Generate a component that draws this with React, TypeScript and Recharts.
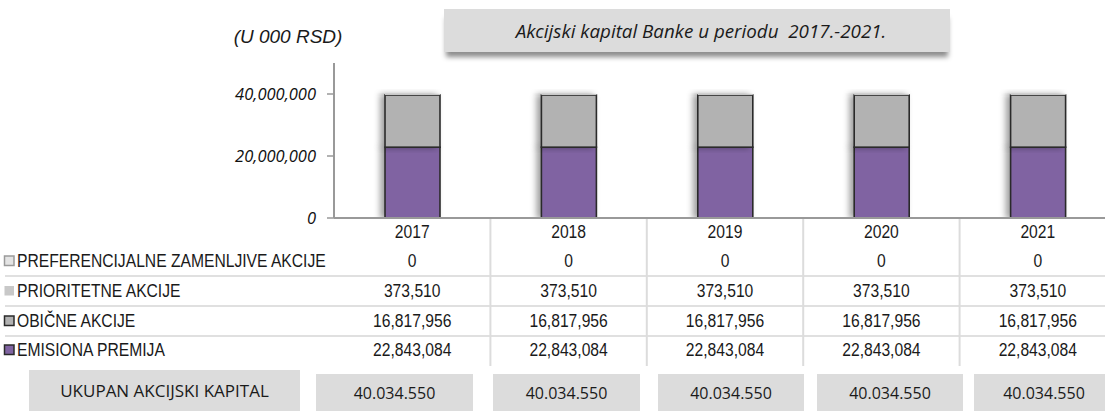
import React from "react";
import { BarChart, Bar, XAxis, YAxis } from "recharts";

const YEARS = ["2017", "2018", "2019", "2020", "2021"];
const PREFERENCIJALNE = [0, 0, 0, 0, 0];
const PRIORITETNE = [373510, 373510, 373510, 373510, 373510];
const OBICNE = [16817956, 16817956, 16817956, 16817956, 16817956];
const EMISIONA = [22843084, 22843084, 22843084, 22843084, 22843084];
const TOTALS = ["40.034.550", "40.034.550", "40.034.550", "40.034.550", "40.034.550"];
const Y_TICKS = [0, 20000000, 40000000];

const TITLE = "Akcijski kapital Banke u periodu  2017.-2021.";
const UNIT = "(U 000 RSD)";
const TOTAL_LABEL = "UKUPAN AKCIJSKI KAPITAL";

const data = YEARS.map((year, i) => ({
  year,
  emisiona: EMISIONA[i],
  obicne: OBICNE[i],
  prioritetne: PRIORITETNE[i],
  preferencijalne: PREFERENCIJALNE[i],
}));

// table rows, top to bottom (reverse of stack order)
const ROWS = [
  { label: "PREFERENCIJALNE ZAMENLJIVE AKCIJE", values: PREFERENCIJALNE, fill: "#e4e4e4", stroke: "#9a9a9a" },
  { label: "PRIORITETNE AKCIJE", values: PRIORITETNE, fill: "#c8c8c8", stroke: "none" },
  { label: "OBIČNE AKCIJE", values: OBICNE, fill: "#b2b2b2", stroke: "#2a2a2a" },
  { label: "EMISIONA PREMIJA", values: EMISIONA, fill: "#8064a2", stroke: "#2a2a2a" },
];

const ROW_Y = [261, 291, 321, 350];
const ROW_LINES = [276, 306, 336];
const BOXES = [
  { x: 316, w: 157 },
  { x: 493, w: 147 },
  { x: 658, w: 146 },
  { x: 817, w: 146 },
  { x: 974, w: 140 },
];

const PLOT_LEFT = 334;
const COL_W = 156.4;
const ZERO_Y = 218;
const SQUEEZE = 0.87; // fake Arial Narrow

const narrow = "'Liberation Sans', Arial, sans-serif";
const calibri = "'Open Sans', 'Noto Sans', sans-serif";

const fmt = (v: number) => v.toLocaleString("en-US");

const NarrowText = ({ x, y, anchor = "middle", children }: any) => (
  <g transform={`translate(${x},${y}) scale(${SQUEEZE},1)`}>
    <text x={0} y={0} textAnchor={anchor} dominantBaseline="central" fill="#1a1a1a"
      style={{ fontFamily: narrow, fontSize: 18 }}>{children}</text>
  </g>
);

const SegmentShape = (props: any) => {
  const { x, y, width, height, fill, stroke } = props;
  if (!height || height <= 0) return null;
  const hasStroke = stroke && stroke !== "none";
  return (
    <rect x={x} y={y} width={width} height={height} fill={fill}
      stroke={hasStroke ? stroke : "none"} strokeWidth={hasStroke ? 1.6 : 0}
      filter="url(#barShadow)" />
  );
};

const TableTick = (props: any) => {
  const { x, payload } = props;
  const i = YEARS.indexOf(String(payload.value));
  return (
    <g>
      <NarrowText x={x} y={232}>{payload.value}</NarrowText>
      {ROWS.map((r, k) => (
        <NarrowText key={r.label} x={x} y={ROW_Y[k]}>{fmt(r.values[i])}</NarrowText>
      ))}
    </g>
  );
};

export default function App() {
  return (
    <div style={{ position: "fixed", left: 0, top: 0, width: 1105, height: 411, overflow: "hidden", background: "#fff" }}>
      {/* table grid behind the chart */}
      <svg width={1105} height={411} style={{ position: "absolute", left: 0, top: 0 }}>
        <defs>
          <filter id="barShadow" x="-60%" y="-10%" width="220%" height="120%">
            <feDropShadow dx={-4} dy={0} stdDeviation={3} floodColor="#000" floodOpacity={0.38} />
          </filter>
        </defs>
        {ROW_LINES.map((y) => (
          <line key={y} x1={5} x2={1105} y1={y} y2={y} stroke="#e0e0e0" strokeWidth={2} />
        ))}
        {[1, 2, 3, 4].map((k) => (
          <line key={k} x1={PLOT_LEFT + k * COL_W} x2={PLOT_LEFT + k * COL_W} y1={ZERO_Y} y2={366}
            stroke="#dcdcdc" strokeWidth={2} />
        ))}
        {ROWS.map((r, k) => (
          <g key={r.label}>
            <rect x={4.5} y={ROW_Y[k] - 5} width={9.5} height={9.5} fill={r.fill}
              stroke={r.stroke === "none" ? "none" : r.stroke} strokeWidth={1.5} />
            <NarrowText x={17} y={ROW_Y[k]} anchor="start">{r.label}</NarrowText>
          </g>
        ))}
      </svg>

      <div style={{ position: "absolute", left: 0, top: 0 }}>
        <BarChart width={1120} height={411} data={data} barSize={55}
          margin={{ top: 63, right: 4, left: 0, bottom: 0 }}>
          <XAxis dataKey="year" axisLine={{ stroke: "#999", strokeWidth: 2 }} tickLine={false}
            tick={<TableTick />} interval={0} height={411 - ZERO_Y} />
          <YAxis width={PLOT_LEFT} domain={[0, 50000000]} ticks={Y_TICKS} allowDataOverflow
            tickFormatter={fmt} axisLine={{ stroke: "#999", strokeWidth: 2 }}
            tickLine={{ stroke: "#999", strokeWidth: 1.5 }} tickSize={7} tickMargin={11}
            tick={{ fill: "#111", fontSize: 16.5, fontStyle: "italic", fontFamily: calibri }} />
          <Bar dataKey="emisiona" stackId="a" fill="#8064a2" stroke="#2a2a2a" shape={<SegmentShape />} isAnimationActive={false} />
          <Bar dataKey="obicne" stackId="a" fill="#b2b2b2" stroke="#2a2a2a" shape={<SegmentShape />} isAnimationActive={false} />
          <Bar dataKey="prioritetne" stackId="a" fill="#c8c8c8" stroke="none" shape={<SegmentShape />} isAnimationActive={false} />
          <Bar dataKey="preferencijalne" stackId="a" fill="#e4e4e4" stroke="#9a9a9a" shape={<SegmentShape />} isAnimationActive={false} />
        </BarChart>
      </div>

      {/* title box */}
      <div style={{
        position: "absolute", left: 444, top: 9, width: 506, height: 43, background: "#dcdcdc",
        boxShadow: "0 7px 5px -2px rgba(0,0,0,0.45)", display: "flex", alignItems: "center",
        justifyContent: "center", fontFamily: calibri, fontStyle: "italic", fontSize: 18.8, color: "#1a1a1a",
        whiteSpace: "pre", paddingLeft: 8, boxSizing: "border-box",
      }}>{TITLE}</div>

      <div style={{
        position: "absolute", left: 226, top: 26, width: 124, textAlign: "center",
        fontFamily: narrow, fontStyle: "italic", fontSize: 19, color: "#1a1a1a",
      }}>{UNIT}</div>

      {/* totals row */}
      <div style={{
        position: "absolute", left: 29, top: 370, width: 271, height: 41, background: "#dcdcdc",
        display: "flex", alignItems: "center", justifyContent: "center",
        fontFamily: calibri, fontSize: 17, color: "#1a1a1a",
      }}>{TOTAL_LABEL}</div>
      {TOTALS.map((t, i) => (
        <div key={i} style={{
          position: "absolute", left: BOXES[i].x, top: 374, width: BOXES[i].w, height: 37, background: "#dcdcdc",
          display: "flex", alignItems: "center", justifyContent: "center",
          fontFamily: calibri, fontSize: 16, color: "#1a1a1a",
        }}>{t}</div>
      ))}
    </div>
  );
}
